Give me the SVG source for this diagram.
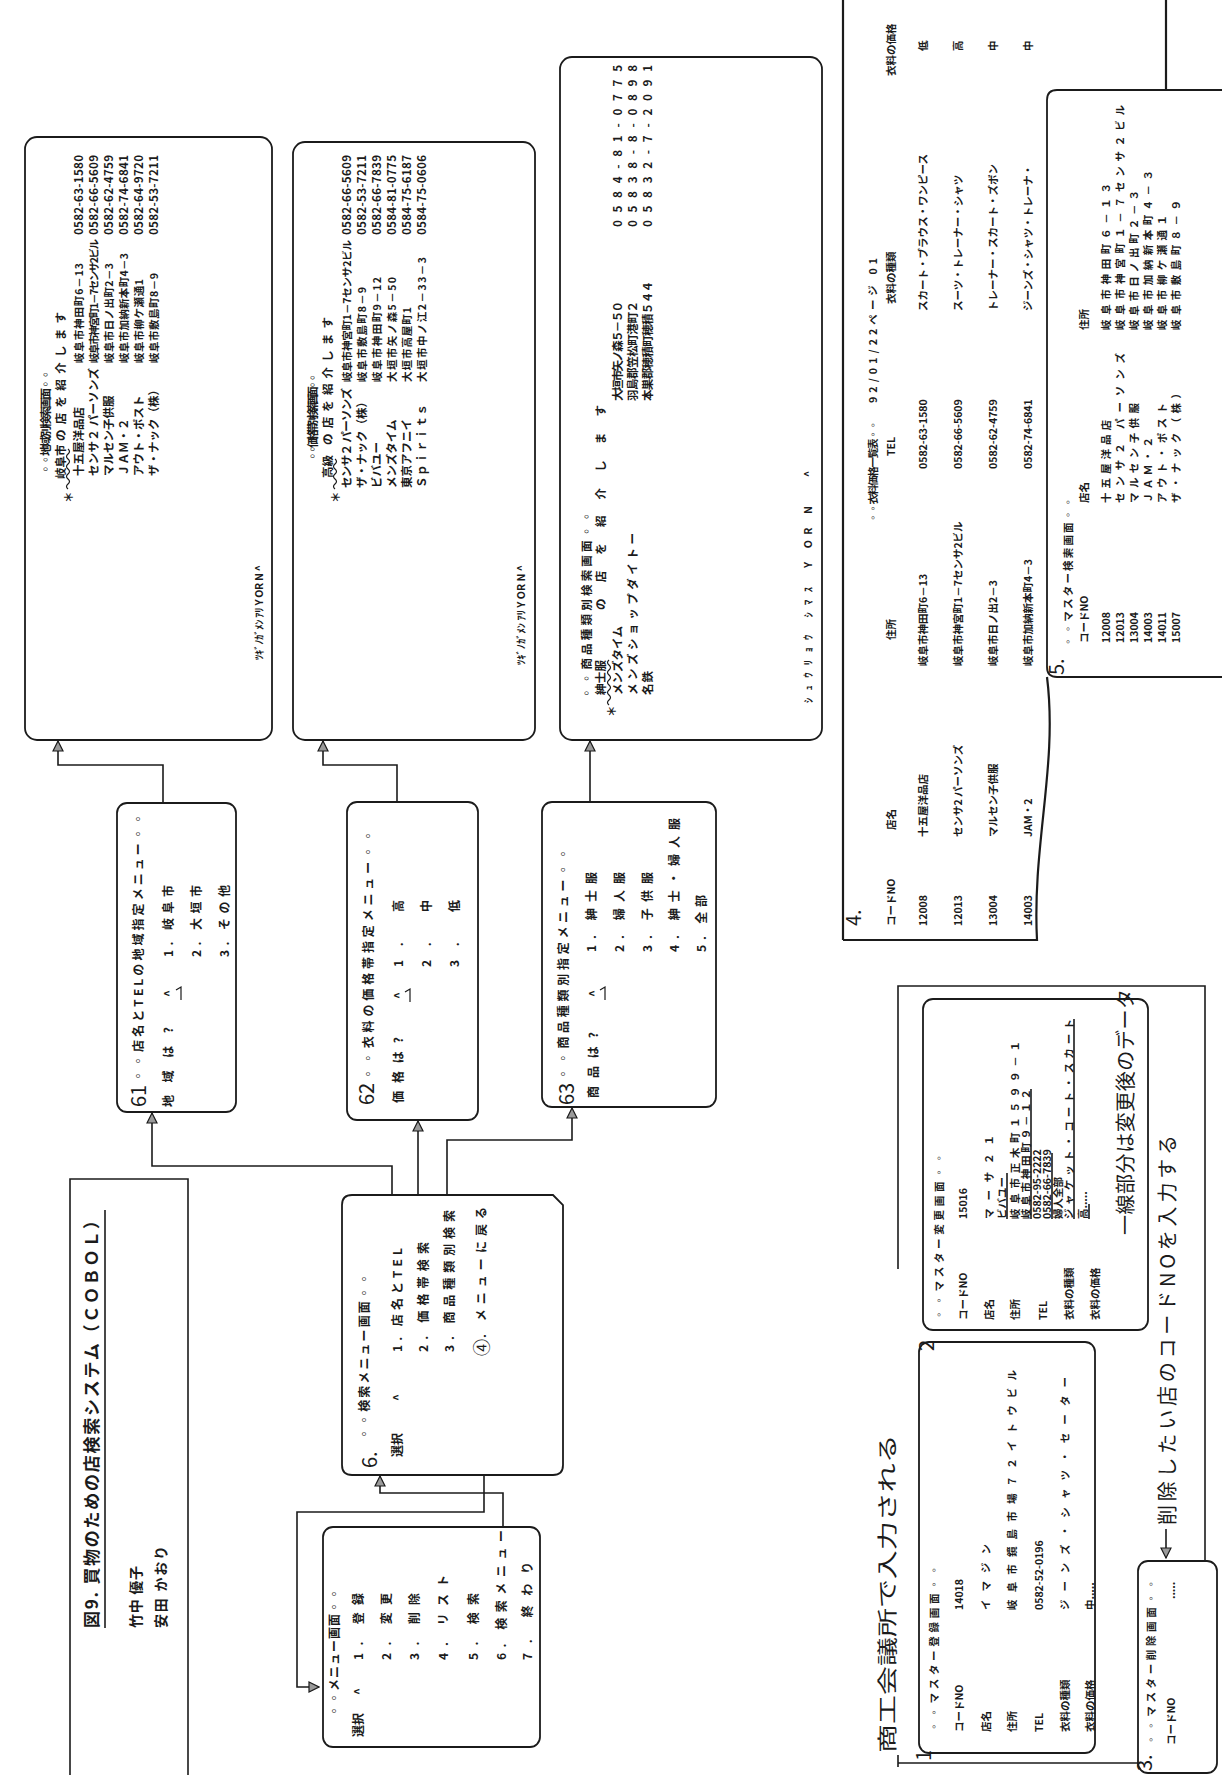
<svg xmlns="http://www.w3.org/2000/svg" width="1224" height="1775" viewBox="0 0 1224 1775">
<style>
text{font-family:"Noto Sans CJK JP","Noto Sans CJK SC",sans-serif;dominant-baseline:central;fill:#1b1b1b}
.s{font-size:10.5px;font-weight:700}
.t{font-size:11.5px;font-weight:700}
.m{font-size:12px;font-weight:700}
.hw{font-size:20px;font-weight:400}
.bx{fill:#fff;stroke:#1b1b1b;stroke-width:1.8}
.ln{fill:none;stroke:#1b1b1b;stroke-width:1.6}
.hv{fill:none;stroke:#1b1b1b;stroke-width:2.2}
.wv{fill:none;stroke:#1b1b1b;stroke-width:1.2}
</style>
<defs>
<marker id="ah" viewBox="0 0 12 12" refX="11" refY="6" markerWidth="12" markerHeight="12" markerUnits="userSpaceOnUse" orient="auto">
<path d="M1,1 L11,6 L1,11 Z" fill="#9a9a9a" stroke="#1b1b1b" stroke-width="1.2"/>
</marker>
</defs>
<rect width="1224" height="1775" fill="#fff"/>
<g transform="translate(0,1775) rotate(-90)">

<g id="title">
<path class="ln" d="M0,70 H596 V188 H0"/>
<text x="147" y="90" font-size="17" font-weight="700" textLength="416">図9. 買物のための店検索システム（ＣＯＢＯＬ）</text>
<path class="ln" d="M147,105 H565"/>
<text x="147" y="135" font-size="14" font-weight="700" textLength="62">竹中 優子</text>
<text x="147" y="160" font-size="14" font-weight="700" textLength="82">安田 かおり</text>
</g>

<g id="connectors">
<path class="ln" d="M405,484 H263 V297 H88 V319" marker-end="url(#ah)"/>
<path class="ln" d="M248,503 H282 V380 H299" marker-end="url(#ah)"/>
<path class="ln" d="M580,392 H609 V152 H662" marker-end="url(#ah)"/>
<path class="ln" d="M580,418 H654" marker-end="url(#ah)"/>
<path class="ln" d="M580,447 H635 V572 H667" marker-end="url(#ah)"/>
<path class="ln" d="M945,163 H1010 V58 H1034" marker-end="url(#ah)"/>
<path class="ln" d="M885,397 H1010 V323 H1034" marker-end="url(#ah)"/>
<path class="ln" d="M920,590 H1034" marker-end="url(#ah)"/>
</g>

<g id="menu">
<rect class="bx" x="28" y="323" width="220" height="217" rx="10"/>
<text class="m" x="58" y="333" textLength="129">◦◦メニュー画面◦◦</text>
<text class="m" x="38" y="357">選択</text>
<text class="m" x="80" y="357">^</text>
<text class="m" x="115" y="357" textLength="67">1. 登録</text>
<text class="m" x="115" y="385" textLength="67">2. 変更</text>
<text class="m" x="115" y="413" textLength="67">3. 削除</text>
<text class="m" x="115" y="442" textLength="85">4. リスト</text>
<text class="m" x="115" y="472" textLength="67">5. 検索</text>
<text class="m" x="115" y="500" textLength="130">6. 検索メニュー</text>
<text class="m" x="115" y="526" textLength="98">7. 終わり</text>
</g>

<g id="box6">
<path class="bx" d="M310,342 H570 Q580,342 580,352 V553 L570,563 H310 Q300,563 300,553 V352 Q300,342 310,342 Z"/>
<text class="hw" x="307" y="368" font-size="24">6.</text>
<text class="m" x="335" y="363" textLength="167">◦◦検索メニュー画面◦◦</text>
<text class="m" x="318" y="396">選択</text>
<text class="m" x="374" y="396">^</text>
<text class="m" x="423" y="396" textLength="104">1. 店名とTEL</text>
<text class="m" x="423" y="422" textLength="110">2. 価格帯検索</text>
<text class="m" x="423" y="448" textLength="142">3. 商品種類別検索</text>
<text x="419" y="480" font-size="17" font-weight="400">④</text>
<text class="m" x="437" y="480" textLength="131">. メニューに戻る</text>
</g>

<g id="box61">
<rect class="bx" x="663" y="117" width="309" height="119" rx="10"/>
<text class="hw" x="668" y="137">61</text>
<text class="m" x="693" y="137" textLength="269">◦◦店名とTELの地域指定メニュー◦◦</text>
<text class="m" x="668" y="167" textLength="80">地域は?</text>
<text class="m" x="778" y="167">^</text>
<path class="wv" d="M775,181 H788 L785,176"/>
<text class="m" x="818" y="167" textLength="72">1. 岐阜市</text>
<text class="m" x="818" y="195" textLength="72">2. 大垣市</text>
<text class="m" x="818" y="223" textLength="72">3. その他</text>
</g>

<g id="box62">
<rect class="bx" x="655" y="347" width="318" height="131" rx="10"/>
<text class="hw" x="670" y="365">62</text>
<text class="m" x="695" y="367" textLength="250">◦◦衣料の価格帯指定メニュー◦◦</text>
<text class="m" x="672" y="397" textLength="66">価格は?</text>
<text class="m" x="776" y="397">^</text>
<path class="wv" d="M773,410 H786 L783,405"/>
<text class="m" x="808" y="397" textLength="67">1. 高</text>
<text class="m" x="808" y="425" textLength="67">2. 中</text>
<text class="m" x="808" y="453" textLength="67">3. 低</text>
</g>

<g id="box63">
<rect class="bx" x="668" y="542" width="305" height="174" rx="10"/>
<text class="hw" x="670" y="565">63</text>
<text class="m" x="695" y="562" textLength="232">◦◦商品種類別指定メニュー◦◦</text>
<text class="m" x="677" y="592" textLength="66">商品は?</text>
<text class="m" x="778" y="592">^</text>
<path class="wv" d="M775,605 H788 L785,600"/>
<text class="m" x="823" y="590" textLength="80">1. 紳士服</text>
<text class="m" x="823" y="618" textLength="80">2. 婦人服</text>
<text class="m" x="823" y="646" textLength="80">3. 子供服</text>
<text class="m" x="823" y="673" textLength="134">4. 紳士・婦人服</text>
<text class="m" x="823" y="700" textLength="57">5. 全部</text>
</g>

<g id="screen1">
<rect class="bx" x="1035" y="25" width="603" height="247" rx="12"/>
<text class="t" x="1300" y="45" textLength="106">◦◦地域別検索画面◦◦</text>
<text class="t" x="1272" y="68">＊</text>
<text class="t" x="1296" y="60">岐阜市</text>
<path class="wv" d="M1286,68 q2.5,-3 5,0 t5,0 t5,0 t5,0 t5,0 t5,0 t5,0 t5,0"/>
<text class="t" x="1334" y="60" textLength="129">の店を紹介します</text>
<text class="t" x="1299" y="78">十五屋洋品店</text>
<text class="t" x="1299" y="93" textLength="108">センサ２ パーソンズ</text>
<text class="t" x="1299" y="108">マルセン子供服</text>
<text class="t" x="1299" y="123">ＪＡＭ・２</text>
<text class="t" x="1299" y="138">アウト・ポスト</text>
<text class="t" x="1299" y="153">ザ・ナック（株）</text>
<text class="s" x="1412" y="78" textLength="100">岐阜市神田町6－13</text>
<text class="s" x="1412" y="93" textLength="124">岐阜市神宮町1－7センサ2ビル</text>
<text class="s" x="1412" y="108" textLength="100">岐阜市日ノ出町2－3</text>
<text class="s" x="1412" y="123" textLength="110">岐阜市加納新本町4－3</text>
<text class="s" x="1412" y="138" textLength="84">岐阜市柳ケ瀬通1</text>
<text class="s" x="1412" y="153" textLength="90">岐阜市敷島町8－9</text>
<text class="t" x="1540" y="78" textLength="80">0582-63-1580</text>
<text class="t" x="1540" y="93" textLength="80">0582-66-5609</text>
<text class="t" x="1540" y="108" textLength="80">0582-62-4759</text>
<text class="t" x="1540" y="123" textLength="80">0582-74-6841</text>
<text class="t" x="1540" y="138" textLength="80">0582-64-9720</text>
<text class="t" x="1540" y="153" textLength="80">0582-53-7211</text>
<text class="s" x="1115" y="258" textLength="95">ﾂｷﾞﾉｶﾞﾒﾝ ｱﾘ Y OR N  ^</text>
</g>

<g id="screen2">
<rect class="bx" x="1035" y="293" width="598" height="242" rx="12"/>
<text class="t" x="1313" y="312" textLength="90">◦◦価格帯別検索画面◦◦</text>
<text class="t" x="1272" y="335">＊</text>
<text class="t" x="1297" y="327">高級</text>
<path class="wv" d="M1286,335 q2.5,-3 5,0 t5,0 t5,0 t5,0 t5,0 t5,0"/>
<text class="t" x="1330" y="327" textLength="128">の店を紹介します</text>
<text class="t" x="1287" y="346" textLength="100">センサ２ パーソンズ</text>
<text class="t" x="1287" y="361">ザ・ナック（株）</text>
<text class="t" x="1287" y="376">ビバユー</text>
<text class="t" x="1287" y="391">メンズタイム</text>
<text class="t" x="1287" y="406">東京アフニイ</text>
<text class="t" x="1287" y="421" textLength="84">Ｓｐｉｒｉｔｓ</text>
<text class="s" x="1393" y="346" textLength="142">岐阜市神宮町1－7センサ2ビル</text>
<text class="s" x="1393" y="361" textLength="95">岐阜市敷島町8－9</text>
<text class="s" x="1393" y="376" textLength="105">岐阜市神田町9－12</text>
<text class="s" x="1393" y="391" textLength="105">大垣市矢ノ森5－50</text>
<text class="s" x="1393" y="406" textLength="75">大垣市高屋町1</text>
<text class="s" x="1393" y="421" textLength="125">大垣市中ノ江2－33－3</text>
<text class="t" x="1540" y="346" textLength="80">0582-66-5609</text>
<text class="t" x="1540" y="361" textLength="80">0582-53-7211</text>
<text class="t" x="1540" y="376" textLength="80">0582-66-7839</text>
<text class="t" x="1540" y="391" textLength="80">0584-81-0775</text>
<text class="t" x="1540" y="406" textLength="80">0584-75-6187</text>
<text class="t" x="1540" y="421" textLength="80">0584-75-0606</text>
<text class="s" x="1110" y="520" textLength="100">ﾂｷﾞﾉｶﾞﾒﾝ ｱﾘ Y OR N  ^</text>
</g>

<g id="screen3">
<rect class="bx" x="1035" y="560" width="683" height="262" rx="12"/>
<text class="t" x="1076" y="586" textLength="188">◦◦商品種類別検索画面◦◦</text>
<text class="t" x="1058" y="611">＊</text>
<text class="t" x="1080" y="600" textLength="35">紳士服</text>
<path class="wv" d="M1070,609 q2.5,-3 5,0 t5,0 t5,0 t5,0 t5,0 t5,0 t5,0 t5,0 t5,0"/>
<text class="t" x="1165" y="600" textLength="205">の店を紹介します</text>
<text class="t" x="1080" y="617" textLength="69">メンズタイム</text>
<text class="t" x="1080" y="632" textLength="162">メンズショップダイトー</text>
<text class="t" x="1080" y="647" textLength="24">名鉄</text>
<text class="t" x="1374" y="617" textLength="100">大垣市矢ノ森５－５０</text>
<text class="t" x="1374" y="632" textLength="100">羽島郡笠松町港町２</text>
<text class="t" x="1374" y="647" textLength="120">本巣郡穂積町穂積５４４</text>
<text class="t" x="1548" y="617" textLength="162">0 5 8 4 - 8 1 - 0 7 7 5</text>
<text class="t" x="1548" y="632" textLength="162">0 5 8 3 8 - 8 - 0 8 9 8</text>
<text class="t" x="1548" y="647" textLength="162">0 5 8 3 2 - 7 - 2 0 9 1</text>
<text class="s" x="1072" y="807" textLength="116">ｼｭｳﾘｮｳ ｼﾏｽ</text>
<text class="s" x="1207" y="807" textLength="62">Y OR N</text>
<text class="s" x="1298" y="807">^</text>
</g>

<g id="list4">
<path class="hv" d="M1775,843 H835 H1037 M835,843 V1037 C930,1032 1010,1058 1098,1047 M1775,1166 H1685"/>
<text class="hw" x="849" y="852" font-size="24">4.</text>
<text class="s" x="1252" y="872" textLength="103">◦◦衣料価格一覧表◦◦</text>
<text class="s" x="1372" y="872" textLength="145">92/01/22ページ 01</text>
<text class="s" x="849" y="890">コードNO</text>
<text class="s" x="945" y="890">店名</text>
<text class="s" x="1135" y="890">住所</text>
<text class="s" x="1319" y="890">TEL</text>
<text class="s" x="1471" y="890">衣料の種類</text>
<text class="s" x="1699" y="890">衣料の価格</text>
<text class="s" x="849" y="922">12008</text>
<text class="s" x="938" y="922">十五屋洋品店</text>
<text class="s" x="1109" y="922">岐阜市神田町6－13</text>
<text class="s" x="1306" y="922">0582-63-1580</text>
<text class="s" x="1464" y="922">スカート・ブラウス・ワンピース</text>
<text class="s" x="1724" y="922">低</text>
<text class="s" x="849" y="957">12013</text>
<text class="s" x="938" y="957">センサ2 パーソンズ</text>
<text class="s" x="1109" y="957">岐阜市神宮町1－7センサ2ビル</text>
<text class="s" x="1306" y="957">0582-66-5609</text>
<text class="s" x="1464" y="957">スーツ・トレーナー・シャツ</text>
<text class="s" x="1724" y="957">高</text>
<text class="s" x="849" y="992">13004</text>
<text class="s" x="938" y="992">マルセン子供服</text>
<text class="s" x="1109" y="992">岐阜市日ノ出2－3</text>
<text class="s" x="1306" y="992">0582-62-4759</text>
<text class="s" x="1464" y="992">トレーナー・スカート・ズボン</text>
<text class="s" x="1724" y="992">中</text>
<text class="s" x="849" y="1027">14003</text>
<text class="s" x="938" y="1027">JAM・2</text>
<text class="s" x="1109" y="1027">岐阜市加納新本町4－3</text>
<text class="s" x="1306" y="1027">0582-74-6841</text>
<text class="s" x="1464" y="1027">ジーンズ・シャツ・トレーナ・</text>
<text class="s" x="1724" y="1027">中</text>
</g>

<g id="search5">
<path class="bx" d="M1098,1222 V1057 Q1098,1047 1108,1047 H1675 Q1685,1047 1685,1057 V1222"/>
<text class="hw" x="1100" y="1055" font-size="24">5.</text>
<text class="s" x="1128" y="1067" textLength="150">◦◦マスター検索画面◦◦</text>
<text class="s" x="1132" y="1083">コードNO</text>
<text class="s" x="1272" y="1083">店名</text>
<text class="s" x="1445" y="1083">住所</text>
<text class="s" x="1132" y="1105">12008</text>
<text class="s" x="1132" y="1119">12013</text>
<text class="s" x="1132" y="1133">13004</text>
<text class="s" x="1132" y="1147">14003</text>
<text class="s" x="1132" y="1161">14011</text>
<text class="s" x="1132" y="1175">15007</text>
<text class="s" x="1272" y="1105" textLength="83">十五屋洋品店</text>
<text class="s" x="1272" y="1119" textLength="150">センサ２ パーソンズ</text>
<text class="s" x="1272" y="1133" textLength="100">マルセン子供服</text>
<text class="s" x="1272" y="1147" textLength="66">ＪＡＭ・２</text>
<text class="s" x="1272" y="1161" textLength="100">アウト・ポスト</text>
<text class="s" x="1272" y="1175" textLength="115">ザ・ナック（株）</text>
<text class="s" x="1445" y="1105" textLength="147">岐阜市神田町６－１３</text>
<text class="s" x="1445" y="1119" textLength="225">岐阜市神宮町１－７センサ２ビル</text>
<text class="s" x="1445" y="1133" textLength="140">岐阜市日ノ出町２－３</text>
<text class="s" x="1445" y="1147" textLength="160">岐阜市加納新本町４－３</text>
<text class="s" x="1445" y="1161" textLength="115">岐阜市柳ケ瀬通１</text>
<text class="s" x="1445" y="1175" textLength="130">岐阜市敷島町８－９</text>
</g>

<g id="panel">
<path class="ln" d="M8,898 H20 M506,898 H789 V1205 H12 V898"/>
<text class="hw" transform="translate(22,886) scale(1.45,1)" font-size="30">商工会議所で入力される</text>
</g>

<g id="reg1">
<rect class="bx" x="22" y="919" width="411" height="176" rx="10"/>
<text class="hw" x="14" y="922" font-size="24">1</text>
<text class="s" x="43" y="933" textLength="167">◦◦マスター登録画面◦◦</text>
<text class="s" x="43" y="958">コードNO</text>
<text class="s" x="165" y="958">14018</text>
<text class="s" x="43" y="985">店名</text>
<text class="s" x="165" y="985" textLength="66">イマジン</text>
<text class="s" x="43" y="1011">住所</text>
<text class="s" x="165" y="1011" textLength="240">岐阜市鏡島市場７２イトウビル</text>
<text class="s" x="43" y="1038">TEL</text>
<text class="s" x="165" y="1038">0582-52-0196</text>
<text class="s" x="43" y="1064">衣料の種類</text>
<text class="s" x="165" y="1064" textLength="233">ジーンズ・シャツ・セーター</text>
<text class="s" x="43" y="1089">衣料の価格</text>
<text class="s" x="165" y="1089">中.....</text>
</g>

<g id="chg2">
<rect class="bx" x="445" y="923" width="331" height="225" rx="10"/>
<text class="hw" x="424" y="925" font-size="26">2</text>
<text class="s" x="455" y="938" textLength="167">◦◦マスター変更画面◦◦</text>
<text class="s" x="455" y="962">コードNO</text>
<text class="s" x="556" y="962">15016</text>
<text class="s" x="455" y="988">店名</text>
<text class="s" x="455" y="1014">住所</text>
<text class="s" x="455" y="1042">TEL</text>
<text class="s" x="455" y="1068">衣料の種類</text>
<text class="s" x="455" y="1094">衣料の価格</text>
<text class="s" x="556" y="988" textLength="84">マーサ２１</text>
<text class="s" x="556" y="1001">ビバユー</text>
<text class="s" x="556" y="1014" textLength="178">岐阜市正木町１５９９－１</text>
<text class="s" x="556" y="1025" textLength="130">岐阜市神田町９－１２</text>
<text class="s" x="556" y="1036">0582-95-2222</text>
<text class="s" x="556" y="1046">0582-66-7839</text>
<text class="s" x="556" y="1057">婦人全部</text>
<text class="s" x="556" y="1068" textLength="200">ジャケット・コート・スカート</text>
<text class="s" x="556" y="1082">高.....</text>
<path class="ln" d="M556,1007 H602 M556,1031 H686 M556,1052 H622 M556,1074 H756 M556,1089 H571"/>
<text class="hw" x="540" y="1124" font-size="17" textLength="246">一線部分は変更後のデータ</text>
</g>

<g id="del3">
<rect class="bx" x="2" y="1138" width="212" height="79" rx="10"/>
<text class="hw" x="4" y="1143" font-size="20">3.</text>
<text class="s" x="30" y="1150" textLength="166">◦◦マスター削除画面◦◦</text>
<text class="s" x="30" y="1170">コードNO</text>
<text class="s" x="176" y="1170">.....</text>
<path class="ln" d="M246,1166 H217" marker-end="url(#ah)"/>
<text class="hw" x="250" y="1166" font-size="22" textLength="390">削除したい店のコードNOを入力する</text>
</g>

</g>
</svg>
